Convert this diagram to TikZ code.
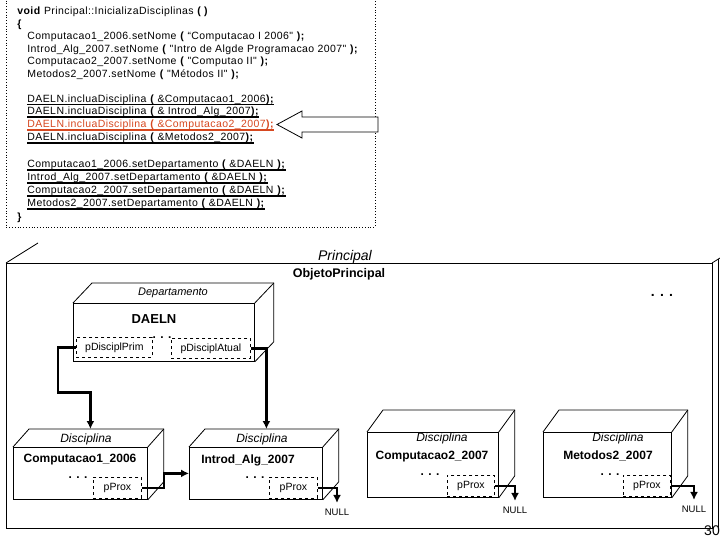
\documentclass[tikz,border=0pt]{standalone}
\usepackage{fontspec}
\setmainfont{Liberation Sans}
\newfontfamily\codigo[LetterSpace=4]{Liberation Sans}
\usetikzlibrary{arrows.meta,calc}

\definecolor{realce}{RGB}{214,72,32}

\tikzset{
  linha/.style={anchor=base west, inner sep=0pt, font=\codigo\fontsize{10.5}{12}\selectfont},
  face/.style={draw, anchor=north west, inner sep=0pt},
  classe/.style={font=\fontsize{12}{14}\selectfont\itshape},
  objeto/.style={font=\fontsize{12}{14}\selectfont\bfseries},
  reticencias/.style={anchor=base, font=\fontsize{12}{14}\selectfont\bfseries},
  campo/.style={draw, dashed, anchor=north west, inner sep=0pt, font=\fontsize{10.5}{12}\selectfont},
  liga/.style={line width=2.4pt, -{Latex[length=8pt,width=8pt]}},
  nulo/.style={font=\fontsize{9.5}{11}\selectfont},
}

% profundidade de uma caixa 3D
\newcommand{\fundo}[3]{%
  \draw (#1.north west) -- ++(#2,#3) -- ($(#1.north east)+(#2,#3)$) -- ($(#1.south east)+(#2,#3)$) -- (#1.south east);
  \draw (#1.north east) -- ++(#2,#3);
}
\newcommand{\ab}{\textbf{(}}
\newcommand{\fe}{\textbf{);}}

\begin{document}
\begin{tikzpicture}[x=1pt, y=-1pt, line width=0.8pt]
\useasboundingbox (0,0) rectangle (720,540);
\clip (0,0) rectangle (720,540);

% codigo
\draw[dotted] (6,-5) -- (6,227) -- (375,227) -- (375,-5);
\node[linha] (l1) at (17,15) {\textbf{void} Principal::InicializaDisciplinas \textbf{( )}};
\node[linha] (l2) at (17,27.5) {\textbf{\{}};
\node[linha] (l3) at (27,40) {Computacao1\_2006.setNome \ab{} “Computacao I 2006" \fe};
\node[linha] (l4) at (27,52.5) {Introd\_Alg\_2007.setNome \ab{} "Intro de Algde Programacao 2007" \fe};
\node[linha] (l5) at (27,65) {Computacao2\_2007.setNome \ab{} "Computao II" \fe};
\node[linha] (l6) at (27,77.5) {Metodos2\_2007.setNome \ab{} "Métodos II" \fe};
\node[linha] (l7) at (27,102.5) {DAELN.incluaDisciplina \ab{} \&Computacao1\_2006\fe};
\node[linha] (l8) at (27,115) {DAELN.incluaDisciplina \ab{} \& Introd\_Alg\_2007\fe};
\node[linha, text=realce] (l9) at (27,128) {DAELN.incluaDisciplina \ab{} \&Computacao2\_2007\fe};
\node[linha] (l10) at (27,141) {DAELN.incluaDisciplina \ab{} \&Metodos2\_2007\fe};
\node[linha] (l11) at (27,168) {Computacao1\_2006.setDepartamento \ab{} \&DAELN \fe};
\node[linha] (l12) at (27,181) {Introd\_Alg\_2007.setDepartamento \ab{} \&DAELN \fe};
\node[linha] (l13) at (27,194) {Computacao2\_2007.setDepartamento \ab{} \&DAELN \fe};
\node[linha] (l14) at (27,207) {Metodos2\_2007.setDepartamento \ab{} \&DAELN \fe};
\node[linha] (l15) at (17,221) {\textbf{\}}};
\foreach \n in {l7,l8,l10,l11,l12,l13,l14}
  \draw[line width=1.1pt] ([yshift=-2pt]\n.base west) -- ([yshift=-2pt]\n.base east);
\draw[realce, line width=1.1pt] ([yshift=-2pt]l9.base west) -- ([yshift=-2pt]l9.base east);

% seta vazada
\draw[fill=white] (378,117) -- (302,117) -- (302,111) -- (277,124.5) -- (302,138) -- (302,132) -- (378,132) -- cycle;

% objeto principal
\draw (6,263) rectangle (712,528);
\draw (6,263) -- (38,243);
\draw (712,263) -- (744,243);
\draw (718,259) -- (718,528);
\node[font=\fontsize{14}{16}\selectfont\itshape] (princ) at (345,257) {Principal};
\node[font=\fontsize{12.5}{14}\selectfont\bfseries] (objp) at (339,274) {ObjetoPrincipal};
\node[reticencias, font=\fontsize{14}{16}\selectfont\bfseries] (mais) at (662,296) {. . .};

% departamento
\node[face, minimum width=181pt, minimum height=58pt] (dep) at (73,303) {};
\fundo{dep}{19}{-20}
\node[font=\fontsize{11}{13}\selectfont\itshape] (depc) at (173,293) {Departamento};
\node[font=\fontsize{13}{15}\selectfont\bfseries] (daeln) at (154,319) {DAELN};
\node[reticencias] (depr) at (162,338) {. . .};
\node[campo, minimum width=76pt, minimum height=20pt] (prim) at (76,337) {pDisciplPrim};
\node[campo, minimum width=79pt, minimum height=20pt] (atual) at (171,338) {pDisciplAtual};

% disciplinas
\node[face, minimum width=134pt, minimum height=52pt] (disc1) at (13,447) {};
\fundo{disc1}{16}{-18}
\node[classe] (c1) at (86,439) {Disciplina};
\node[objeto] (n1) at (80,460) {Computacao1\_2006};
\node[reticencias] (r1) at (78,478.5) {. . .};
\node[campo, minimum width=48pt, minimum height=21pt] (prox1) at (93,477) {pProx};

\node[face, minimum width=133pt, minimum height=52pt] (disc2) at (189,447) {};
\fundo{disc2}{16}{-18}
\node[classe] (c2) at (262,439) {Disciplina};
\node[objeto] (n2) at (248,460) {Introd\_Alg\_2007};
\node[reticencias] (r2) at (255,478.5) {. . .};
\node[campo, minimum width=48pt, minimum height=21pt] (prox2) at (269,477) {pProx};

\node[face, minimum width=131pt, minimum height=65pt] (disc3) at (367,432) {};
\fundo{disc3}{16}{-22}
\node[classe] (c3) at (442,438) {Disciplina};
\node[objeto] (n3) at (432,457) {Computacao2\_2007};
\node[reticencias] (r3) at (430,475) {. . .};
\node[campo, minimum width=47pt, minimum height=21pt] (prox3) at (447,475) {pProx};

\node[face, minimum width=128pt, minimum height=65pt] (disc4) at (543,432) {};
\fundo{disc4}{16}{-22}
\node[classe] (c4) at (618,438) {Disciplina};
\node[objeto] (n4) at (608,456) {Metodos2\_2007};
\node[reticencias] (r4) at (610,475) {. . .};
\node[campo, minimum width=47pt, minimum height=21pt] (prox4) at (623,475) {pProx};

\node[nulo] (nulo2) at (337,512) {NULL};
\node[nulo] (nulo3) at (515,510) {NULL};
\node[nulo] (nulo4) at (694,509) {NULL};

% ligacoes
\draw[liga] (prim.west) -- ++(-18,0) -- ++(0,45) -| ($(disc1.north)+(10,-18)$);
\draw[liga] (atual.east) -| ($(disc2.north)+(10.5,-18)$);
\draw[liga] (prox1.east) -- ++(22,0) |- (disc2.west);
\draw[liga, shorten >=2pt] (prox2.east) -| (nulo2.north);
\draw[liga, shorten >=2pt] (prox3.east) -| (nulo3.north);
\draw[liga, shorten >=2pt] (prox4.east) -| (nulo4.north);

\node[font=\fontsize{14}{16}\selectfont] (pag) at (712,531) {30};
\end{tikzpicture}
\end{document}
